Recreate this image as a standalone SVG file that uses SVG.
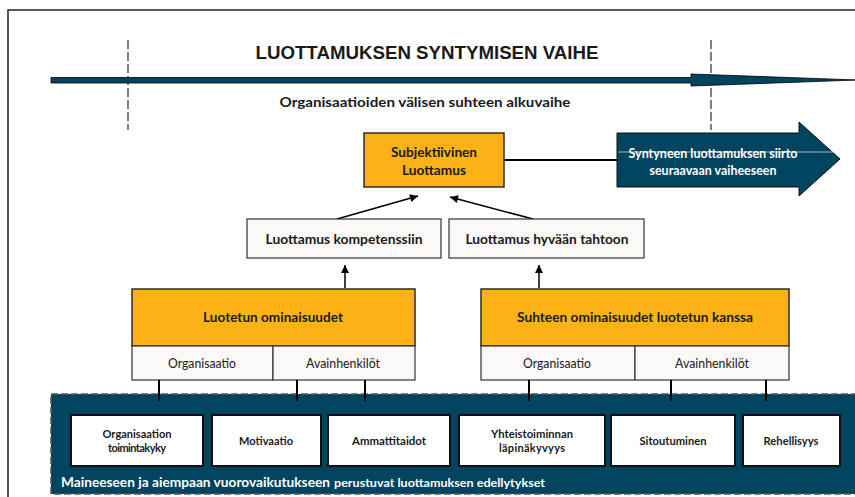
<svg xmlns="http://www.w3.org/2000/svg" width="855" height="497" viewBox="0 0 855 497">
  <defs>
    <style>
      .t{font-family:Lato,"Open Sans","Liberation Sans",sans-serif;text-anchor:middle;dominant-baseline:central;fill:#1a1a1a}
      .b{font-weight:bold}
      .wt{fill:#ffffff}
      .orange{fill:#FBB216;stroke:#2b2b2b;stroke-width:1.5}
      .pale{fill:#FAF9F7;stroke:#333333;stroke-width:1.2}
      .navy{fill:#01445F}
      .card{fill:#ffffff;stroke:#111111;stroke-width:2}
      .conn{stroke:#000000;stroke-width:1.5;fill:none}
      .tick{stroke:#000000;stroke-width:2}
      .dash{stroke:#555555;stroke-width:1.5;stroke-dasharray:9 3;fill:none}
    </style>
    <marker id="ah" viewBox="0 0 10 10" refX="10" refY="5" markerWidth="9" markerHeight="8" markerUnits="userSpaceOnUse" orient="auto">
      <path d="M0,0 L10,5 L0,10 z" fill="#000000"/>
    </marker>
  </defs>

  <rect width="855" height="497" fill="#ffffff"/>

  <!-- outer frame -->
  <path d="M8,497 V10 H855" fill="none" stroke="#222222" stroke-width="1.5"/>

  <!-- phase boundaries -->
  <line class="dash" x1="128" y1="40" x2="128" y2="130"/>
  <line class="dash" x1="711" y1="40" x2="711" y2="130"/>

  <!-- phase timeline arrow -->
  <g id="timeline">
    <path class="navy" d="M51,77.5 H691 V74 L858,80 L691,86 V83 H51 Z" stroke="#000000" stroke-width="0.8"/>
    <text class="t b" x="427" y="53" style="font-family:'Liberation Sans',Arial,sans-serif" font-size="18" textLength="343" lengthAdjust="spacingAndGlyphs">LUOTTAMUKSEN SYNTYMISEN VAIHE</text>
    <text class="t b" x="425" y="102" font-size="13" textLength="291" lengthAdjust="spacingAndGlyphs">Organisaatioiden  välisen suhteen alkuvaihe</text>
  </g>

  <!-- connectors -->
  <g id="connectors">
    <line x1="504" y1="160" x2="617" y2="160" stroke="#000000" stroke-width="2"/>
    <line class="conn" x1="337" y1="219" x2="418" y2="196" marker-end="url(#ah)"/>
    <line class="conn" x1="533" y1="219" x2="450" y2="197" marker-end="url(#ah)"/>
    <line class="conn" x1="345" y1="288" x2="345" y2="265" marker-end="url(#ah)"/>
    <line class="conn" x1="539" y1="288" x2="539" y2="265" marker-end="url(#ah)"/>
  </g>

  <!-- subjective trust -->
  <g id="subjektiivinen">
    <rect class="orange" x="364" y="133" width="140" height="54"/>
    <text class="t b" x="434" y="152" font-size="13.5" textLength="86" lengthAdjust="spacingAndGlyphs">Subjektiivinen</text>
    <text class="t b" x="434" y="170" font-size="13.5" textLength="64" lengthAdjust="spacingAndGlyphs">Luottamus</text>
  </g>

  <!-- transfer to next phase -->
  <g id="siirto">
    <path class="navy" d="M617,133 H799 V122 L840,159 L799,196 V187 H617 Z" stroke="#111111" stroke-width="1"/>
    <line x1="618" y1="152" x2="833" y2="152" stroke="#c9d3da" stroke-width="0.8"/>
    <text class="t b wt" x="713" y="153" font-size="12.5" textLength="169" lengthAdjust="spacingAndGlyphs">Syntyneen luottamuksen siirto</text>
    <text class="t b wt" x="713" y="170" font-size="12.5" textLength="127" lengthAdjust="spacingAndGlyphs">seuraavaan vaiheeseen</text>
  </g>

  <!-- competence / goodwill -->
  <g id="kompetenssi">
    <rect class="pale" x="247" y="219" width="194" height="39"/>
    <text class="t b" x="344" y="239" font-size="13" textLength="157" lengthAdjust="spacingAndGlyphs">Luottamus kompetenssiin</text>
  </g>
  <g id="hyvatahto">
    <rect class="pale" x="449" y="219" width="195" height="39"/>
    <text class="t b" x="547" y="239" font-size="13" textLength="163" lengthAdjust="spacingAndGlyphs">Luottamus hyvään tahtoon</text>
  </g>

  <!-- trustee attributes -->
  <g id="luotetun">
    <rect class="orange" x="132" y="289" width="283" height="57"/>
    <rect class="pale" x="132" y="346" width="141" height="34"/>
    <rect class="pale" x="273" y="346" width="142" height="34"/>
    <text class="t b" x="273" y="317" font-size="13.5" textLength="140" lengthAdjust="spacingAndGlyphs">Luotetun ominaisuudet</text>
    <text class="t" x="202" y="363" font-size="12.5" textLength="68" lengthAdjust="spacingAndGlyphs">Organisaatio</text>
    <text class="t" x="343" y="363" font-size="12.5" textLength="74" lengthAdjust="spacingAndGlyphs">Avainhenkilöt</text>
  </g>

  <!-- relationship attributes -->
  <g id="suhteen">
    <rect class="orange" x="481" y="289" width="308" height="57"/>
    <rect class="pale" x="481" y="346" width="154" height="34"/>
    <rect class="pale" x="635" y="346" width="154" height="34"/>
    <text class="t b" x="635" y="317" font-size="13.5" textLength="236" lengthAdjust="spacingAndGlyphs">Suhteen ominaisuudet luotetun kanssa</text>
    <text class="t" x="557" y="363" font-size="12.5" textLength="68" lengthAdjust="spacingAndGlyphs">Organisaatio</text>
    <text class="t" x="712" y="363" font-size="12.5" textLength="74" lengthAdjust="spacingAndGlyphs">Avainhenkilöt</text>
  </g>

  <!-- preconditions panel -->
  <g id="edellytykset">
    <rect x="51" y="394" width="815" height="100" fill="#01445F" stroke="#555555" stroke-width="1.5" stroke-dasharray="7 3"/>
    <text x="61" y="487" style="font-family:Lato,'Open Sans','Liberation Sans',sans-serif" font-weight="bold" fill="#ffffff"><tspan font-size="13.5" textLength="269" lengthAdjust="spacingAndGlyphs">Maineeseen ja aiempaan vuorovaikutukseen</tspan><tspan x="334" font-size="11.5" textLength="211" lengthAdjust="spacingAndGlyphs">perustuvat luottamuksen edellytykset</tspan></text>
  </g>

  <!-- ticks from attribute cells into panel -->
  <g id="ticks">
    <line class="tick" x1="159" y1="380" x2="159" y2="401"/>
    <line class="tick" x1="297" y1="380" x2="297" y2="401"/>
    <line class="tick" x1="365" y1="380" x2="365" y2="401"/>
    <line class="tick" x1="529" y1="380" x2="529" y2="401"/>
    <line class="tick" x1="671" y1="380" x2="671" y2="401"/>
    <line class="tick" x1="766" y1="380" x2="766" y2="401"/>
  </g>

  <g id="toimintakyky">
    <rect class="card" x="71" y="415" width="132" height="51"/>
    <text class="t b" x="137" y="433" font-size="11" textLength="69" lengthAdjust="spacingAndGlyphs">Organisaation</text>
    <text class="t b" x="137" y="447" font-size="11" textLength="58" lengthAdjust="spacing">toimintakyky</text>
  </g>
  <g id="motivaatio">
    <rect class="card" x="212" y="415" width="109" height="51"/>
    <text class="t b" x="266" y="440" font-size="11" textLength="54" lengthAdjust="spacingAndGlyphs">Motivaatio</text>
  </g>
  <g id="ammattitaidot">
    <rect class="card" x="328" y="415" width="122" height="51"/>
    <text class="t b" x="389" y="440" font-size="11" textLength="74" lengthAdjust="spacingAndGlyphs">Ammattitaidot</text>
  </g>
  <g id="lapinakyvyys">
    <rect class="card" x="459" y="415" width="146" height="51"/>
    <text class="t b" x="532" y="433" font-size="11" textLength="82" lengthAdjust="spacingAndGlyphs">Yhteistoiminnan</text>
    <text class="t b" x="532" y="447" font-size="11" textLength="66" lengthAdjust="spacing">läpinäkyvyys</text>
  </g>
  <g id="sitoutuminen">
    <rect class="card" x="611" y="415" width="124" height="51"/>
    <text class="t b" x="673" y="440" font-size="11" textLength="67" lengthAdjust="spacingAndGlyphs">Sitoutuminen</text>
  </g>
  <g id="rehellisyys">
    <rect class="card" x="743" y="415" width="97" height="51"/>
    <text class="t b" x="791" y="440" font-size="11" textLength="55" lengthAdjust="spacingAndGlyphs">Rehellisyys</text>
  </g>
</svg>
